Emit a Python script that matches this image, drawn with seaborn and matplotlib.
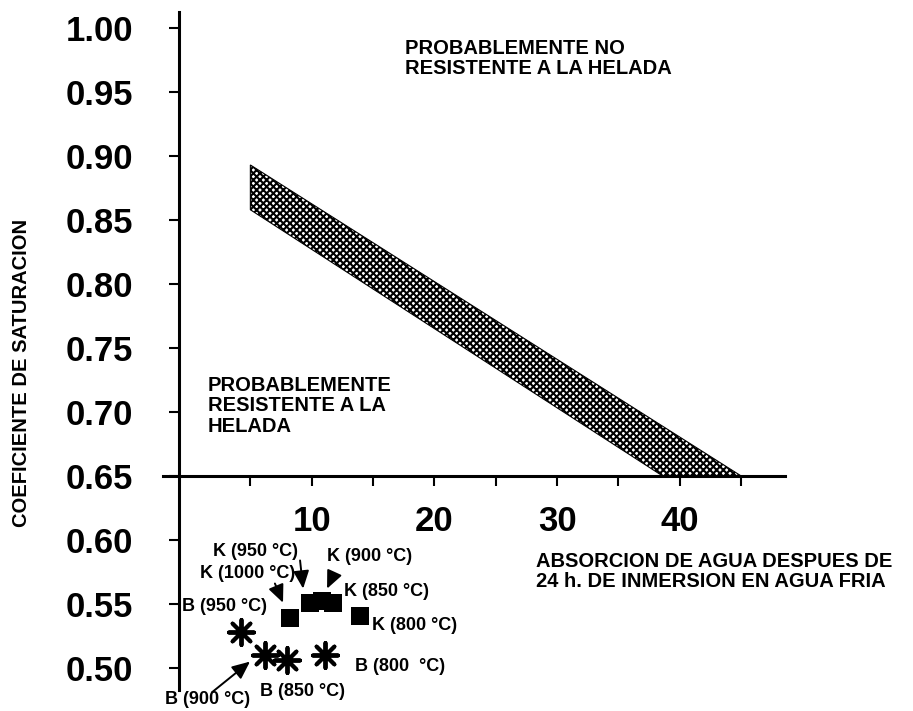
import numpy as np
import pandas as pd
import matplotlib
matplotlib.use("Agg")
import matplotlib.pyplot as plt
import seaborn as sns

# band limits (frost resistance boundary)
band_x = [5, 45, 38.6, 5]
band_y = [0.893, 0.65, 0.65, 0.858]

# K samples (squares)
k_labels = ["K (1000 °C)", "K (950 °C)", "K (900 °C)", "K (850 °C)", "K (800 °C)"]
k_absorcion = [8.2, 9.9, 10.8, 11.7, 13.9]
k_coef = [0.539, 0.551, 0.552, 0.551, 0.541]

# B samples (stars)
b_labels = ["B (950 °C)", "B (900 °C)", "B (850 °C)", "B (800  °C)"]
b_absorcion = [4.2, 6.2, 8.0, 11.1]
b_coef = [0.528, 0.510, 0.506, 0.510]

y_ticks = [0.50, 0.55, 0.60, 0.65, 0.70, 0.75, 0.80, 0.85, 0.90, 0.95, 1.00]
x_ticks = [10, 20, 30, 40]
x_minor = [5, 15, 25, 35, 45]

sns.set_theme(style="white")
plt.rcParams["font.family"] = ["Liberation Sans", "DejaVu Sans"]
plt.rcParams["font.weight"] = "bold"
plt.rcParams["text.color"] = "black"
plt.rcParams["axes.labelcolor"] = "black"
plt.rcParams["hatch.linewidth"] = 1.5

fig = plt.figure(figsize=(9.13, 7.11), dpi=100)
ax = fig.add_axes([0.17853, 0.02954, 0.68127, 0.95358])

ax.fill(band_x, band_y, facecolor="white", edgecolor="black", hatch="xxxxx", linewidth=0.8)

k_df = pd.DataFrame({"abs": k_absorcion, "coef": k_coef})
b_df = pd.DataFrame({"abs": b_absorcion, "coef": b_coef})
sns.scatterplot(data=k_df, x="abs", y="coef", marker="s", s=160, color="black",
                edgecolor="black", linewidth=0, ax=ax, zorder=5)
sns.scatterplot(data=b_df, x="abs", y="coef", marker=(8, 2, 0), s=330, color="black",
                edgecolor="black", linewidth=2.8, ax=ax, zorder=5)

ax.set_xlim(-2.12, 48.57)
ax.set_ylim(0.4828, 1.0125)

for s in ["top", "right"]:
    ax.spines[s].set_visible(False)
ax.spines["left"].set_position(("data", -0.8))
ax.spines["bottom"].set_position(("data", 0.65))
ax.spines["left"].set_linewidth(2.2)
ax.spines["bottom"].set_linewidth(2.2)
ax.spines["left"].set_color("black")
ax.spines["bottom"].set_color("black")

ax.set_yticks(y_ticks)
ax.set_yticklabels([f"{v:.2f}" for v in y_ticks])
ax.set_xticks(x_ticks)
ax.set_xticks(x_minor, minor=True)
ax.tick_params(axis="y", direction="out", length=7, width=1.5, pad=26,
               labelsize=25, colors="black", left=True)
ax.tick_params(axis="x", which="both", direction="out", length=7, width=1.5,
               pad=14, labelsize=25, colors="black", bottom=True)
for lab in ax.get_xticklabels() + ax.get_yticklabels():
    lab.set_fontweight("bold")

ax.set_xlabel("")
ax.set_ylabel("COEFICIENTE DE SATURACION", fontsize=14.5, fontweight="bold", color="black")
ax.yaxis.set_label_coords(-0.212, 0.468)

ax.text(28.3, 0.5754, "ABSORCION DE AGUA DESPUES DE\n24 h. DE INMERSION EN AGUA FRIA",
        fontsize=14.5, fontweight="bold", ha="left", va="center", linespacing=1.1)
ax.text(17.6, 0.976, "PROBABLEMENTE NO\nRESISTENTE A LA HELADA",
        fontsize=14.5, fontweight="bold", ha="left", va="center", linespacing=1.1)
ax.text(1.55, 0.705, "PROBABLEMENTE\nRESISTENTE A LA\nHELADA",
        fontsize=14.5, fontweight="bold", ha="left", va="center", linespacing=1.1)

arrow = dict(arrowstyle="-|>,head_length=0.9,head_width=0.4", color="black",
             lw=1.4, shrinkA=0, shrinkB=0)
lab_fs = 13

# labels with arrows
ax.annotate(k_labels[1], xy=(9.3, 0.561), xytext=(1.96, 0.591), fontsize=lab_fs,
            fontweight="bold", ha="left", va="center")
ax.annotate("", xy=(9.3, 0.562), xytext=(9.05, 0.584), arrowprops=arrow)
ax.annotate(k_labels[2], xy=(11.25, 0.561), xytext=(11.25, 0.587), fontsize=lab_fs,
            fontweight="bold", ha="left", va="center")
ax.annotate("", xy=(11.25, 0.562), xytext=(11.82, 0.574), arrowprops=arrow)
ax.annotate(k_labels[0], xy=(7.66, 0.551), xytext=(0.9, 0.574), fontsize=lab_fs,
            fontweight="bold", ha="left", va="center")
ax.annotate("", xy=(7.66, 0.551), xytext=(7.0, 0.566), arrowprops=arrow)
ax.text(12.63, 0.560, k_labels[3], fontsize=lab_fs, fontweight="bold", ha="left", va="center")
ax.text(14.91, 0.533, k_labels[4], fontsize=lab_fs, fontweight="bold", ha="left", va="center")
ax.text(-0.57, 0.548, b_labels[0], fontsize=lab_fs, fontweight="bold", ha="left", va="center")
ax.text(13.53, 0.501, b_labels[3], fontsize=lab_fs, fontweight="bold", ha="left", va="center")
ax.text(5.79, 0.482, b_labels[2], fontsize=lab_fs, fontweight="bold", ha="left", va="center")
ax.text(-1.96, 0.475, b_labels[1], fontsize=lab_fs, fontweight="bold", ha="left", va="center")
ax.annotate("", xy=(4.97, 0.505), xytext=(1.87, 0.481), arrowprops=arrow,
            annotation_clip=False)

fig.savefig("out.png", dpi=100)
